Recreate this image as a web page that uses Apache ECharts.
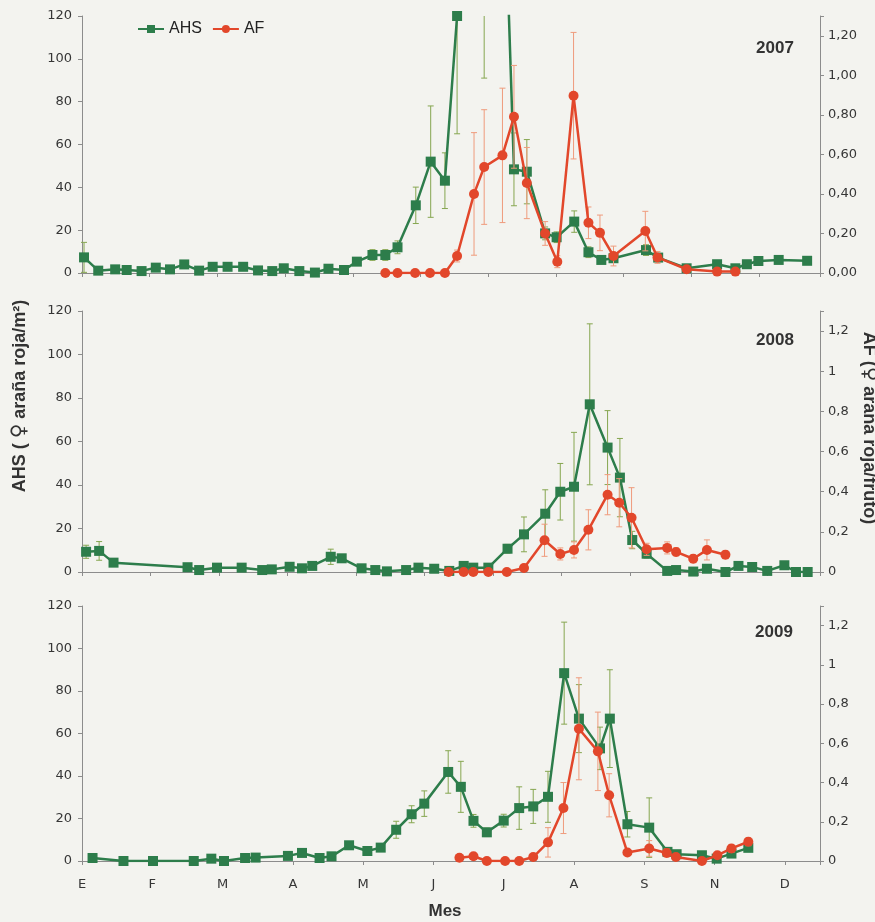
<!DOCTYPE html>
<html>
<head>
<meta charset="utf-8">
<script src="https://cdn.jsdelivr.net/npm/echarts@6/dist/echarts.min.js"></script>
<style>
  html, body { margin: 0; padding: 0; background: #f3f3ef; }
  #chart { width: 875px; height: 922px; }
</style>
</head>
<body>
<div id="chart"></div>
<script>
  // eje x: meses (posicion en unidades de mes desde el 1 de enero)
  const MONTHS = ['E', 'F', 'M', 'A', 'M', 'J', 'J', 'A', 'S', 'N', 'D'];

  // ---- 2007 ----
  const ahs07X = [0.03, 0.24, 0.49, 0.66, 0.88, 1.09, 1.30, 1.51, 1.73, 1.93, 2.15, 2.38, 2.60, 2.81, 2.98, 3.21,
    3.44, 3.64, 3.87, 4.06, 4.29, 4.48, 4.66, 4.93, 5.15, 5.36, 5.54, 5.94, 6.17, 6.38, 6.57, 6.84, 7.01, 7.27,
    7.48, 7.67, 7.85, 8.33, 8.51, 8.93, 9.38, 9.65, 9.82, 9.99, 10.29, 10.71];
  const ahs07Y = [7.3, 1.1, 1.7, 1.4, 0.9, 2.5, 1.7, 4.0, 1.1, 2.9, 2.9, 2.9, 1.2, 0.9, 2.2, 0.9,
    0.2, 2.0, 1.4, 5.3, 8.4, 8.4, 12.0, 31.6, 52, 43.1, 120, 170, 250, 48.4, 47.3, 18.5, 16.7, 24,
    9.7, 6.1, 6.9, 10.7, 7.2, 2.2, 4.1, 2.2, 4.1, 5.6, 6.1, 5.7];
  const ahs07E = [7, 0.5, 0.5, 0.5, 0.5, 0.8, 0.5, 1, 0.5, 0.8, 0.8, 0.8, 0.5, 0.5, 0.5, 0.5,
    0.3, 0.5, 0.5, 1.5, 2.5, 2.5, 3, 8.5, 26, 13, 55, 79, 60, 17, 15, 3, 2.5, 5,
    2.5, 1.5, 1.5, 2.5, 1.5, 0.8, 1, 0.5, 1, 1, 1.5, 1];
  const af07X = [4.48, 4.66, 4.92, 5.14, 5.36, 5.54, 5.79, 5.94, 6.21, 6.38, 6.57, 6.84, 7.02, 7.26, 7.48,
    7.65, 7.85, 8.32, 8.50, 8.93, 9.38, 9.65];
  const af07Y = [0, 0, 0, 0, 0, 0.086, 0.40, 0.536, 0.595, 0.79, 0.455, 0.20, 0.057, 0.897, 0.254,
    0.203, 0.086, 0.212, 0.079, 0.019, 0.007, 0.007];
  const af07E = [0, 0, 0, 0, 0, 0.03, 0.31, 0.29, 0.34, 0.26, 0.18, 0.06, 0.03, 0.32, 0.08,
    0.09, 0.05, 0.10, 0.03, 0.01, 0, 0];

  // ---- 2008 ----
  const ahs08X = [0.06, 0.25, 0.46, 1.54, 1.71, 1.97, 2.33, 2.63, 2.77, 3.03, 3.21, 3.36, 3.63, 3.79, 4.08,
    4.28, 4.45, 4.73, 4.91, 5.14, 5.36, 5.57, 5.71, 5.93, 6.21, 6.45, 6.76, 6.98, 7.18, 7.41, 7.67, 7.85,
    8.03, 8.24, 8.54, 8.67, 8.92, 9.12, 9.39, 9.58, 9.78, 10.0, 10.25, 10.42, 10.59];
  const ahs08Y = [9.3, 9.7, 4.3, 2.2, 0.9, 2.0, 2.0, 0.9, 1.2, 2.4, 1.7, 2.8, 7.0, 6.3, 1.7,
    0.9, 0.3, 0.9, 2.0, 1.5, 0.5, 2.8, 2.0, 2.0, 10.7, 17.3, 26.8, 36.9, 39.2, 77.1, 57.2, 43.4,
    14.7, 8.4, 0.5, 0.9, 0.2, 1.5, 0, 2.8, 2.3, 0.5, 3.1, 0, 0];
  const ahs08E = [3, 4.3, 1, 0.5, 0.3, 0.5, 0.5, 0.3, 0.3, 0.5, 0.5, 0.5, 3.5, 1.5, 0.5,
    0.3, 0.2, 0.3, 0.5, 0.5, 0.3, 0.5, 0.5, 0.5, 2, 8, 11, 13, 25, 37, 17, 18,
    4, 2, 0.3, 0.3, 0.2, 0.5, 0, 0.8, 0.5, 0.3, 0.8, 0, 0];
  const af08X = [5.35, 5.57, 5.71, 5.93, 6.20, 6.45, 6.75, 6.98, 7.18, 7.39, 7.67, 7.84, 8.02, 8.24, 8.54,
    8.67, 8.92, 9.12, 9.39];
  const af08Y = [0, 0, 0, 0, 0, 0.02, 0.158, 0.09, 0.11, 0.21, 0.385, 0.345, 0.27, 0.113, 0.12,
    0.10, 0.066, 0.11, 0.086];
  const af08E = [0, 0, 0, 0, 0, 0.01, 0.08, 0.03, 0.04, 0.10, 0.10, 0.12, 0.15, 0.03, 0.03,
    0.02, 0.02, 0.05, 0.02];

  // ---- 2009 ----
  const ahs09X = [0.15, 0.59, 1.01, 1.59, 1.84, 2.02, 2.32, 2.47, 2.93, 3.13, 3.38, 3.55, 3.80, 4.06, 4.25,
    4.47, 4.69, 4.87, 5.21, 5.39, 5.57, 5.76, 6.00, 6.22, 6.42, 6.63, 6.86, 7.07, 7.37, 7.51, 7.76,
    8.07, 8.33, 8.46, 8.82, 9.03, 9.24, 9.48];
  const ahs09Y = [1.4, 0, 0, 0, 1.1, 0, 1.4, 1.6, 2.4, 3.8, 1.4, 2.2, 7.4, 4.7, 6.3,
    14.7, 22, 27, 41.9, 34.9, 18.9, 13.5, 19, 24.9, 25.7, 30.2, 88.4, 67, 53, 67, 17.3,
    15.7, 4.3, 3.2, 2.7, 1.1, 3.5, 6.2];
  const ahs09E = [0.5, 0, 0, 0, 0.5, 0, 0.5, 0.5, 0.8, 1, 0.5, 0.8, 1.5, 1, 1.5,
    4, 4, 6, 10, 12, 3, 2, 3, 10, 8, 12, 24, 16, 10, 23, 6,
    14, 1, 0.8, 0.5, 0.5, 0.8, 1];
  const af09X = [5.37, 5.57, 5.76, 6.02, 6.22, 6.42, 6.63, 6.85, 7.07, 7.34, 7.50, 7.76, 8.07, 8.32, 8.45,
    8.82, 9.04, 9.24, 9.48];
  const af09Y = [0.017, 0.024, 0, 0, 0, 0.02, 0.095, 0.27, 0.674, 0.559, 0.335, 0.043, 0.064, 0.041, 0.02,
    0, 0.029, 0.064, 0.098];
  const af09E = [0.01, 0.01, 0, 0, 0, 0.01, 0.075, 0.13, 0.26, 0.20, 0.11, 0.01, 0.04, 0.02, 0.01,
    0, 0.01, 0.02, 0.02];

  const AHS_TICKS = [0, 20, 40, 60, 80, 100, 120];
  const AF_TICKS = [0, 0.2, 0.4, 0.6, 0.8, 1.0, 1.2];

  const GREEN = '#2d7d4b';
  const RED = '#e2472b';
  const GREEN_ERR = '#86a650';
  const RED_ERR = '#ef9b7c';
  const AXIS = '#8c8c8c';
  const TXT = '#363636';

  function zip(xs, ys, es) {
    return xs.map((x, i) => es ? [x, ys[i], es[i]] : [x, ys[i]]);
  }

  function errRender(color) {
    return function (params, api) {
      const x = api.value(0), v = api.value(1), e = api.value(2);
      if (!(e > 0)) return null;
      const cs = params.coordSys;
      const pt = api.coord([x, v + e]);
      const pb = api.coord([x, v - e]);
      const top = Math.max(pt[1], cs.y);
      const bot = Math.min(pb[1], cs.y + cs.height);
      if (bot <= top) return null;
      const cx = pt[0], w = 3;
      const st = {stroke: color, lineWidth: 1};
      const children = [{type: 'line', shape: {x1: cx, y1: top, x2: cx, y2: bot}, style: st}];
      if (pt[1] >= cs.y) children.push({type: 'line', shape: {x1: cx - w, y1: pt[1], x2: cx + w, y2: pt[1]}, style: st});
      if (pb[1] <= cs.y + cs.height) children.push({type: 'line', shape: {x1: cx - w, y1: pb[1], x2: cx + w, y2: pb[1]}, style: st});
      return {type: 'group', children: children};
    };
  }

  const grids = [
    {left: 82, right: 55, top: 16, height: 257},
    {left: 82, right: 55, top: 311, height: 261},
    {left: 82, right: 55, top: 606, height: 255}
  ];
  const xMax = [10.9, 10.77, 10.5];

  const xAxes = grids.map((g, i) => ({
    type: 'value', gridIndex: i, min: 0, max: xMax[i], interval: 1,
    axisLine: {onZero: false, lineStyle: {color: AXIS}},
    axisTick: {show: true, length: 4, lineStyle: {color: AXIS}},
    splitLine: {show: false},
    axisLabel: {
      show: i === 2, margin: 17, color: TXT, fontSize: 13, fontFamily: 'DejaVu Sans',
      formatter: v => Number.isInteger(v) && MONTHS[v] !== undefined ? MONTHS[v] : ''
    }
  }));

  const yAxes = [];
  grids.forEach((g, i) => {
    yAxes.push({
      type: 'value', gridIndex: i, position: 'left', min: 0, max: 120, interval: 20,
      axisLine: {show: true, lineStyle: {color: AXIS}},
      axisTick: {show: true, length: 4, lineStyle: {color: AXIS}},
      splitLine: {show: false},
      axisLabel: {
        color: TXT, fontSize: 13, fontFamily: 'DejaVu Sans', margin: 10,
        formatter: v => AHS_TICKS.indexOf(v) >= 0 ? String(v) : ''
      }
    });
    yAxes.push({
      type: 'value', gridIndex: i, position: 'right', min: 0, max: 1.3, interval: 0.2,
      axisLine: {show: true, lineStyle: {color: AXIS}},
      axisTick: {show: true, length: 4, lineStyle: {color: AXIS}},
      splitLine: {show: false},
      axisLabel: {
        color: TXT, fontSize: 13, fontFamily: 'DejaVu Sans', margin: 8,
        formatter: function (v) {
          const t = AF_TICKS.find(a => Math.abs(a - v) < 1e-6);
          if (t === undefined) return '';
          const s = i === 0 ? t.toFixed(2) : String(Math.round(t * 10) / 10);
          return s.replace('.', ',');
        }
      }
    });
  });

  const panels = [
    [ahs07X, ahs07Y, ahs07E, af07X, af07Y, af07E],
    [ahs08X, ahs08Y, ahs08E, af08X, af08Y, af08E],
    [ahs09X, ahs09Y, ahs09E, af09X, af09Y, af09E]
  ];

  const series = [];
  panels.forEach((p, i) => {
    series.push({
      type: 'custom', xAxisIndex: i, yAxisIndex: 2 * i, z: 1, silent: true,
      renderItem: errRender(GREEN_ERR), encode: {x: 0, y: 1},
      data: zip(p[0], p[1], p[2])
    });
    series.push({
      name: 'AHS', type: 'line', xAxisIndex: i, yAxisIndex: 2 * i, z: 2,
      symbol: 'rect', symbolSize: 10, showAllSymbol: true,
      itemStyle: {color: GREEN}, lineStyle: {color: GREEN, width: 2.5},
      data: zip(p[0], p[1])
    });
    series.push({
      type: 'custom', xAxisIndex: i, yAxisIndex: 2 * i + 1, z: 3, silent: true,
      renderItem: errRender(RED_ERR), encode: {x: 0, y: 1},
      data: zip(p[3], p[4], p[5])
    });
    series.push({
      name: 'AF', type: 'line', xAxisIndex: i, yAxisIndex: 2 * i + 1, z: 4,
      symbol: 'circle', symbolSize: 10, showAllSymbol: true,
      itemStyle: {color: RED}, lineStyle: {color: RED, width: 2.5},
      data: zip(p[3], p[4])
    });
  });

  const titleRich = {
    b: {font: 'bold 18px "Liberation Sans"', fill: '#333'},
    s: {font: 'bold 20px "DejaVu Sans"', fill: '#333'}
  };

  const chart = echarts.init(document.getElementById('chart'));
  chart.setOption({
    backgroundColor: '#f3f3ef',
    animation: false,
    legend: {
      data: ['AHS', 'AF'], left: 132, top: 16, itemWidth: 26, itemHeight: 10, itemGap: 10,
      textStyle: {fontSize: 16, color: '#222', fontFamily: 'Liberation Sans'}
    },
    grid: grids,
    xAxis: xAxes,
    yAxis: yAxes,
    series: series,
    graphic: [
      {type: 'text', x: 775, y: 48, style: {text: '2007', font: 'bold 17px "Liberation Sans"', fill: '#333', align: 'center', verticalAlign: 'middle'}},
      {type: 'text', x: 775, y: 340, style: {text: '2008', font: 'bold 17px "Liberation Sans"', fill: '#333', align: 'center', verticalAlign: 'middle'}},
      {type: 'text', x: 774, y: 632, style: {text: '2009', font: 'bold 17px "Liberation Sans"', fill: '#333', align: 'center', verticalAlign: 'middle'}},
      {type: 'text', x: 445, y: 911, style: {text: 'Mes', font: 'bold 17px "Liberation Sans"', fill: '#333', align: 'center', verticalAlign: 'middle'}},
      {type: 'text', x: 20, y: 396, rotation: Math.PI / 2,
        style: {text: '{b|AHS ( }{s|\u2640}{b| araña roja/m\u00b2)}', rich: titleRich, align: 'center', verticalAlign: 'middle'}},
      {type: 'text', x: 869, y: 428, rotation: -Math.PI / 2,
        style: {text: '{b|AF (}{s|\u2640}{b| araña roja/fruto)}', rich: titleRich, align: 'center', verticalAlign: 'middle'}}
    ]
  });
</script>
</body>
</html>
